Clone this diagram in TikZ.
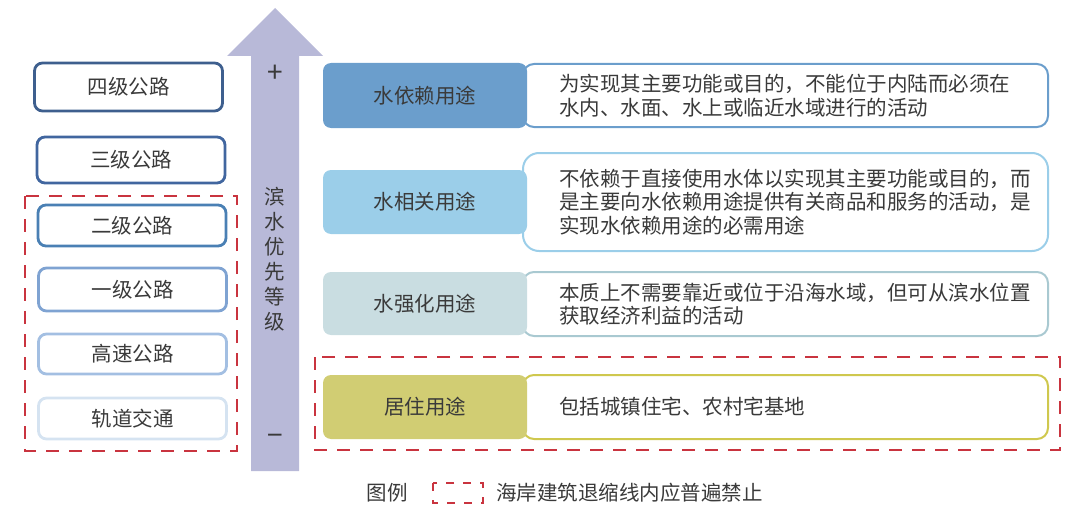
\documentclass[tikz,border=0pt]{standalone}
\usepackage{fontspec}
\setmainfont{Noto Sans CJK SC}
\usetikzlibrary{positioning}
\definecolor{arrowgray}{HTML}{B8B9D8}
\definecolor{textgray}{HTML}{3A3A3A}
\definecolor{banred}{HTML}{C9343F}
\definecolor{roadfour}{HTML}{3E5F8E}
\definecolor{roadthree}{HTML}{41669F}
\definecolor{roadtwo}{HTML}{4A80B4}
\definecolor{roadone}{HTML}{7FA3D2}
\definecolor{roadfast}{HTML}{A3BFE2}
\definecolor{roadrail}{HTML}{D5E3F1}
\definecolor{depblue}{HTML}{6B9ECC}
\definecolor{relblue}{HTML}{9BCEE9}
\definecolor{enhgray}{HTML}{C9DDE1}
\definecolor{enhline}{HTML}{A9C9D1}
\definecolor{resyellow}{HTML}{D1CD73}
\definecolor{resline}{HTML}{CFC84E}

\begin{document}
\begin{tikzpicture}[x=1pt, y=-1pt, text=textgray, font=\fontsize{20.5pt}{23.5pt}\selectfont,
  roadbox/.style={draw, line width=2.8pt, rounded corners=8pt, minimum width=188pt, inner sep=0pt},
  usebox/.style={rounded corners=8pt, minimum width=204pt, inner sep=0pt},
  descbox/.style={draw, line width=2pt, fill=white, rounded corners=11pt, minimum width=525pt, inner sep=0pt},
  desctext/.style={anchor=west, align=left, inner sep=0pt},
  banline/.style={draw=banred, line width=2.2pt, dash pattern=on 13pt off 10pt}]
  \useasboundingbox (0,0) rectangle (1080,519);

  % priority arrow
  \fill[arrowgray] (251,471) -- (251,56) -- (227,56) -- (275,8) -- (323,56) -- (299,56) -- (299,471) -- cycle;
  \node[font=\fontsize{28pt}{28pt}\selectfont] (plus) at (275,74) {+};
  \node[font=\fontsize{28pt}{28pt}\selectfont] (minus) at (275,440) {−};
  \node[align=center, font=\fontsize{20.5pt}{25pt}\selectfont] (prio) at (275,259) {滨\\水\\优\\先\\等\\级};

  % roads
  \node[roadbox, draw=roadfour, minimum height=48pt] (four) at (128.5,87) {四级公路};
  \node[roadbox, draw=roadthree, minimum height=46pt] (three) at (131,160) {三级公路};
  \node[roadbox, draw=roadtwo, minimum height=41pt] (two) at (132,225.5) {二级公路};
  \node[roadbox, draw=roadone, minimum height=43pt] (one) at (132.5,289.5) {一级公路};
  \node[roadbox, draw=roadfast, minimum height=40pt] (fast) at (132.5,354) {高速公路};
  \node[roadbox, draw=roadrail, minimum height=41pt] (rail) at (132.5,418.5) {轨道交通};

  % uses and their descriptions
  \node[descbox, draw=depblue, minimum height=63pt] (depdesc) at (785.5,95.5) {};
  \node[usebox, fill=depblue, minimum height=65pt] (dep) at (425,95.5) {水依赖用途};
  \node[desctext] (deptext) at ([xshift=37pt]depdesc.west) {为实现其主要功能或目的，不能位于内陆而必须在\\水内、水面、水上或临近水域进行的活动};

  \node[descbox, draw=relblue, rounded corners=16pt, minimum height=98pt] (reldesc) at (785.5,202) {};
  \node[usebox, fill=relblue, minimum height=64pt] (rel) at (425,202) {水相关用途};
  \node[desctext] (reltext) at ([xshift=37pt]reldesc.west) {不依赖于直接使用水体以实现其主要功能或目的，而\\是主要向水依赖用途提供有关商品和服务的活动，是\\实现水依赖用途的必需用途};

  \node[descbox, draw=enhline, minimum height=64pt] (enhdesc) at (785.5,304) {};
  \node[usebox, fill=enhgray, minimum height=63pt] (enh) at (425,303.5) {水强化用途};
  \node[desctext] (enhtext) at ([xshift=37pt]enhdesc.west) {本质上不需要靠近或位于沿海水域，但可从滨水位置\\获取经济利益的活动};

  \node[descbox, draw=resline, minimum height=64pt] (resdesc) at (785.5,407) {};
  \node[usebox, fill=resyellow, minimum height=64pt] (res) at (425,407) {居住用途};
  \node[desctext] (restext) at ([xshift=37pt]resdesc.west) {包括城镇住宅、农村宅基地};

  % setback zones
  \draw[banline] (25,196) rectangle (237,451);
  \draw[banline] (315,357) rectangle (1060,450);

  % legend
  \node (legend) at (387,493) {图例};
  \draw[banline, dash pattern=on 8pt off 9pt] (433,483) rectangle (483,503);
  \node[anchor=west, inner sep=0pt] (legendtext) at (496,493) {海岸建筑退缩线内应普遍禁止};
\end{tikzpicture}
\end{document}
